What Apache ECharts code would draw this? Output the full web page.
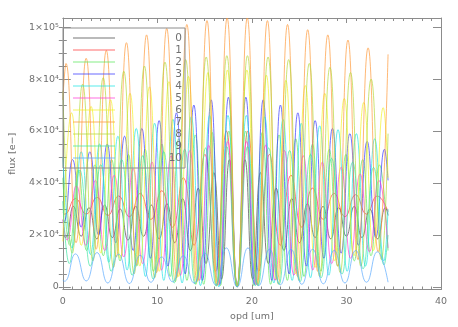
<!DOCTYPE html>
<html>
<head>
<meta charset="utf-8">
<title>flux vs opd</title>
<script src="https://cdn.jsdelivr.net/npm/echarts@6/dist/echarts.min.js"></script>
<style>
html, body { margin: 0; padding: 0; background: #fff; }
#chart { width: 458px; height: 327px; }
</style>
</head>
<body>
<div id="chart"></div>
<script>
// ---- data: fringe extrema of each channel (x = opd [um], y = flux [e-]) ----
const ch0 = [[0,20e3],[0.29,19e3],[1.12,31e3],[1.94,19.5e3],[2.77,30.5e3],[3.59,18.5e3],[4.42,31.5e3],[5.24,19e3],[6.07,30e3],[6.89,18e3],[7.72,31e3],[8.54,19.5e3],[9.37,31.5e3],[10.19,18.5e3],[11.02,32e3],[11.84,17e3],[12.67,34e3],[13.49,14e3],[14.32,38e3],[15.14,9e3],[15.97,44e3],[16.79,3e3],[17.62,49e3],[18.44,0],[19.27,49e3],[20.09,3e3],[20.92,44e3],[21.74,9e3],[22.57,38e3],[23.39,14e3],[24.22,34e3],[25.04,17e3],[25.87,32e3],[26.69,19e3],[27.52,31e3],[28.34,18.5e3],[29.17,30.5e3],[29.99,19.5e3],[30.82,31e3],[31.64,19e3],[32.47,30e3],[33.29,18.5e3],[34.12,30.5e3],[34.4,27.5e3]];
const ch1 = [[0,28.5e3],[0.20,28e3],[1.34,34e3],[2.48,28e3],[3.62,34.5e3],[4.76,27.5e3],[5.90,35e3],[7.04,27e3],[8.18,36e3],[9.32,26e3],[10.46,37e3],[11.60,23e3],[12.74,42e3],[13.88,16e3],[15.02,51e3],[16.16,6e3],[17.30,60e3],[18.44,0],[19.58,60e3],[20.72,6e3],[21.86,51e3],[23.00,16e3],[24.14,43e3],[25.28,23e3],[26.42,38e3],[27.56,26e3],[28.70,36e3],[29.84,27e3],[30.98,35.5e3],[32.12,28e3],[33.26,35e3],[34.4,29e3]];
const ch2 = [[0,42e3],[0.74,16e3],[1.63,45e3],[2.51,14e3],[3.40,47e3],[4.28,12e3],[5.17,49e3],[6.05,10e3],[6.94,51e3],[7.82,8e3],[8.71,53e3],[9.59,6e3],[10.48,55e3],[11.36,4e3],[12.25,57e3],[13.13,2.5e3],[14.02,58.5e3],[14.90,1e3],[15.79,59.5e3],[16.67,0.5e3],[17.56,60e3],[18.44,0],[19.33,60e3],[20.21,0.5e3],[21.10,59.5e3],[21.98,1e3],[22.87,58.5e3],[23.75,2.5e3],[24.64,57e3],[25.52,4e3],[26.41,55e3],[27.29,6e3],[28.18,53e3],[29.06,8e3],[29.95,51e3],[30.83,10e3],[31.72,49e3],[32.60,12e3],[33.49,47e3],[34.4,14e3]];
const ch3 = [[0,25.5e3],[0.11,25e3],[1.03,49e3],[1.94,23e3],[2.86,52e3],[3.78,20e3],[4.69,55e3],[5.61,17e3],[6.53,58e3],[7.44,14e3],[8.36,61e3],[9.27,11e3],[10.19,64e3],[11.11,8e3],[12.02,67e3],[12.94,5e3],[13.86,70e3],[14.77,2.5e3],[15.69,72e3],[16.61,1e3],[17.52,73e3],[18.44,0],[19.36,73e3],[20.27,1e3],[21.19,72e3],[22.11,2.5e3],[23.02,70e3],[23.94,5e3],[24.86,67e3],[25.77,8e3],[26.69,64e3],[27.61,11e3],[28.52,61e3],[29.44,13e3],[30.36,59e3],[31.27,16e3],[32.19,56e3],[33.11,19e3],[34.02,53e3],[34.4,41e3]];
const ch4 = [[0,50e3],[0.98,15e3],[1.95,52e3],[2.92,12.5e3],[3.89,55e3],[4.86,9.5e3],[5.83,58e3],[6.80,6.5e3],[7.77,61e3],[8.74,4e3],[9.71,63e3],[10.68,2.5e3],[11.65,64.5e3],[12.62,1.5e3],[13.59,65.5e3],[14.56,0.5e3],[15.53,66e3],[16.50,0],[17.47,66e3],[18.44,0],[19.41,66e3],[20.38,0.5e3],[21.35,65.5e3],[22.32,1.5e3],[23.29,64.5e3],[24.26,2.5e3],[25.23,63e3],[26.20,3.5e3],[27.17,62e3],[28.14,4.5e3],[29.11,60.5e3],[30.08,6e3],[31.05,59e3],[32.02,8e3],[32.99,57e3],[33.96,10e3],[34.4,30e3]];
const ch5 = [[0,26e3],[0.44,18e3],[1.44,39e3],[2.44,16e3],[3.44,41e3],[4.44,14e3],[5.44,43e3],[6.44,11.5e3],[7.44,45.5e3],[8.44,9e3],[9.44,48e3],[10.44,6.5e3],[11.44,50.5e3],[12.44,4.5e3],[13.44,52.5e3],[14.44,2.5e3],[15.44,54.5e3],[16.44,0.8e3],[17.44,56e3],[18.44,0],[19.44,56e3],[20.44,0.8e3],[21.44,54.5e3],[22.44,2.5e3],[23.44,52.5e3],[24.44,4.5e3],[25.44,50.5e3],[26.44,6.5e3],[27.44,48e3],[28.44,9e3],[29.44,46e3],[30.44,11e3],[31.44,43.5e3],[32.44,13.5e3],[33.44,41e3],[34.4,15e3]];
const ch6 = [[0,17.5e3],[0.93,67e3],[1.96,16e3],[2.99,69.5e3],[4.02,13e3],[5.05,72e3],[6.08,11e3],[7.11,74.5e3],[8.14,8e3],[9.17,77e3],[10.20,6e3],[11.23,79e3],[12.26,4e3],[13.29,81e3],[14.32,2.5e3],[15.35,82.5e3],[16.38,1e3],[17.41,83.5e3],[18.44,0],[19.47,83.5e3],[20.50,1e3],[21.53,81.5e3],[22.56,3e3],[23.59,79.5e3],[24.62,5e3],[25.65,77.5e3],[26.68,7.5e3],[27.71,74.5e3],[28.74,10e3],[29.77,72.5e3],[30.80,12e3],[31.83,71e3],[32.86,14e3],[33.89,69e3],[34.4,42e3]];
const ch7 = [[0,72e3],[0.34,86e3],[1.40,17e3],[2.47,88e3],[3.53,14.5e3],[4.60,91e3],[5.66,11.5e3],[6.73,94e3],[7.79,8.5e3],[8.86,97e3],[9.92,5.5e3],[10.99,99.5e3],[12.05,3.5e3],[13.12,101e3],[14.18,2e3],[15.25,102.5e3],[16.31,0.5e3],[17.38,103.5e3],[18.44,0],[19.51,103.5e3],[20.57,1e3],[21.64,102.5e3],[22.70,2.5e3],[23.77,101e3],[24.83,4e3],[25.90,99e3],[26.96,6e3],[28.03,97e3],[29.09,8e3],[30.16,95e3],[31.22,10.5e3],[32.29,92e3],[33.35,13.5e3],[34.4,89.5e3]];
const ch8 = [[0,75.5e3],[1.00,13e3],[2.09,78e3],[3.18,10e3],[4.27,80.5e3],[5.36,7.5e3],[6.45,83e3],[7.54,5e3],[8.63,85e3],[9.72,3.5e3],[10.81,86.5e3],[11.90,2e3],[12.99,87.5e3],[14.08,1e3],[15.17,88.5e3],[16.26,0.5e3],[17.35,89e3],[18.44,0],[19.53,89e3],[20.62,0.5e3],[21.71,88.5e3],[22.80,1e3],[23.89,87.5e3],[24.98,2.5e3],[26.07,86e3],[27.16,4e3],[28.25,84.5e3],[29.34,5.5e3],[30.43,82.5e3],[31.52,8e3],[32.61,80e3],[33.70,10.5e3],[34.4,59e3]];
const ch9 = [[0,33e3],[0.68,9e3],[1.79,45e3],[2.90,8e3],[4.01,47e3],[5.12,6e3],[6.23,49e3],[7.34,4.5e3],[8.45,50.5e3],[9.56,3e3],[10.67,52e3],[11.78,1.5e3],[12.89,53e3],[14.00,1e3],[15.11,53.5e3],[16.22,0.3e3],[17.33,54e3],[18.44,0],[19.55,54e3],[20.66,0.5e3],[21.77,53.5e3],[22.88,1e3],[23.99,52.5e3],[25.10,2e3],[26.21,51e3],[27.32,3.5e3],[28.43,49.5e3],[29.54,5e3],[30.65,48e3],[31.76,7e3],[32.87,46e3],[33.98,8.5e3],[34.4,20e3]];
const ch10 = [[0,2.5e3],[0.20,2.2e3],[1.34,12.7e3],[2.48,2.3e3],[3.62,13.2e3],[4.76,1.5e3],[5.90,12.6e3],[7.04,1.3e3],[8.18,12.2e3],[9.32,1.8e3],[10.46,11.5e3],[11.60,2e3],[12.74,12e3],[13.88,1.5e3],[15.02,13e3],[16.16,0.8e3],[17.30,15e3],[18.44,0],[19.58,15e3],[20.72,0.5e3],[21.86,14.5e3],[23.00,0.8e3],[24.14,14.5e3],[25.28,1e3],[26.42,14.5e3],[27.56,1.2e3],[28.70,14e3],[29.84,1.5e3],[30.98,14e3],[32.12,1.8e3],[33.26,13.5e3],[34.4,1.8e3]];

const channels = [ch0, ch1, ch2, ch3, ch4, ch5, ch6, ch7, ch8, ch9, ch10];
const channelNames = ['0', '1', '2', '3', '4', '5', '6', '7', '8', '9', '10'];
const yMajorTicks = [0, 20000, 40000, 60000, 80000, 100000];
const yMinorTicks = [0, 5000, 10000, 15000, 20000, 25000, 30000, 35000, 40000, 45000, 50000,
    55000, 60000, 65000, 70000, 75000, 80000, 85000, 90000, 95000, 100000];

// ---- styles ----
const colors = ['#4a4a4a', '#ff3b3b', '#5ee85e', '#3838ff', '#22e4e4', '#ff3fd8',
    '#f2f22a', '#ff9a3a', '#b5d83c', '#3fe6a2', '#5aaaff'];
const AXIS = '#8c8c8c';
const TEXT = '#707070';
const FONT = 'DejaVu Sans';
const SUP = '⁰¹²³⁴⁵⁶⁷⁸⁹';

function yLabel(v) {
    if (v === 0) return '0';
    const exp = Math.floor(Math.log10(v) + 1e-9);
    const m = Math.round(v / Math.pow(10, exp));
    return m + '×10' + SUP[exp];
}

const chart = echarts.init(document.getElementById('chart'), null, { renderer: 'canvas' });

const tickLine = { lineStyle: { color: AXIS, width: 1 } };
const xBase = {
    type: 'value', min: 0, max: 40, interval: 10, gridIndex: 0,
    axisLine: { show: true, onZero: false, lineStyle: { color: AXIS, width: 1 } },
    axisTick: { show: true, inside: true, length: 5, ...tickLine },
    minorTick: { show: true, splitNumber: 10, length: 3, ...tickLine },
    splitLine: { show: false },
};
const yBase = {
    type: 'value', min: -1000, max: 103500, gridIndex: 0,
    axisLine: { show: true, onZero: false, lineStyle: { color: AXIS, width: 1 } },
    splitLine: { show: false },
};

chart.setOption({
    animation: false,
    backgroundColor: '#fff',
    grid: { left: 57, right: 17, top: 18, height: 271.5 },
    xAxis: [
        {
            ...xBase, position: 'bottom',
            axisLabel: { color: TEXT, fontSize: 9.5, fontFamily: FONT, margin: 7 },
            name: 'opd [um]', nameLocation: 'middle', nameGap: 19,
            nameTextStyle: { color: TEXT, fontSize: 9.5, fontFamily: FONT },
        },
        { ...xBase, position: 'top', axisLabel: { show: false } },
    ],
    yAxis: [
        {
            ...yBase, position: 'left',
            axisTick: { show: true, inside: true, length: 8, customValues: yMajorTicks, ...tickLine },
            axisLabel: { customValues: yMajorTicks, formatter: yLabel, color: TEXT, fontSize: 9.5, fontFamily: FONT, margin: 4 },
            name: 'flux [e−]', nameLocation: 'middle', nameGap: 38, nameRotate: 90,
            nameTextStyle: { color: TEXT, fontSize: 9.5, fontFamily: FONT },
        },
        {
            ...yBase, position: 'left', axisLine: { show: false },
            axisTick: { show: true, inside: true, length: 4, customValues: yMinorTicks, ...tickLine },
            axisLabel: { show: false, customValues: yMinorTicks },
        },
        {
            ...yBase, position: 'right',
            axisTick: { show: true, inside: true, length: 8, customValues: yMajorTicks, ...tickLine },
            axisLabel: { show: false, customValues: yMajorTicks },
        },
        {
            ...yBase, position: 'right', axisLine: { show: false },
            axisTick: { show: true, inside: true, length: 4, customValues: yMinorTicks, ...tickLine },
            axisLabel: { show: false, customValues: yMinorTicks },
        },
    ],
    legend: {
        data: channelNames,
        orient: 'vertical',
        left: 63, top: 28,
        padding: [4, 3, 4, 10],
        icon: 'rect',
        itemGap: 0, itemWidth: 42, itemHeight: 1.2,
        borderColor: AXIS, borderWidth: 1,
        selectedMode: false,
        formatter: n => '{g|}{n|' + n + '}',
        textStyle: {
            color: TEXT,
            rich: {
                g: { width: 48, height: 10.9 },
                n: { width: 14, align: 'right', fontSize: 10.5, height: 10.9, lineHeight: 10.9, fontFamily: FONT, color: TEXT },
            },
        },
    },
    series: channels.map((d, i) => ({
        name: channelNames[i],
        type: 'line',
        xAxisIndex: 0,
        yAxisIndex: 0,
        data: d,
        symbol: 'none',
        smooth: 0.5,
        silent: true,
        lineStyle: { width: 1, color: colors[i], opacity: 0.7 },
        itemStyle: { color: colors[i], opacity: 0.75 },
    })),
});
</script>
</body>
</html>
